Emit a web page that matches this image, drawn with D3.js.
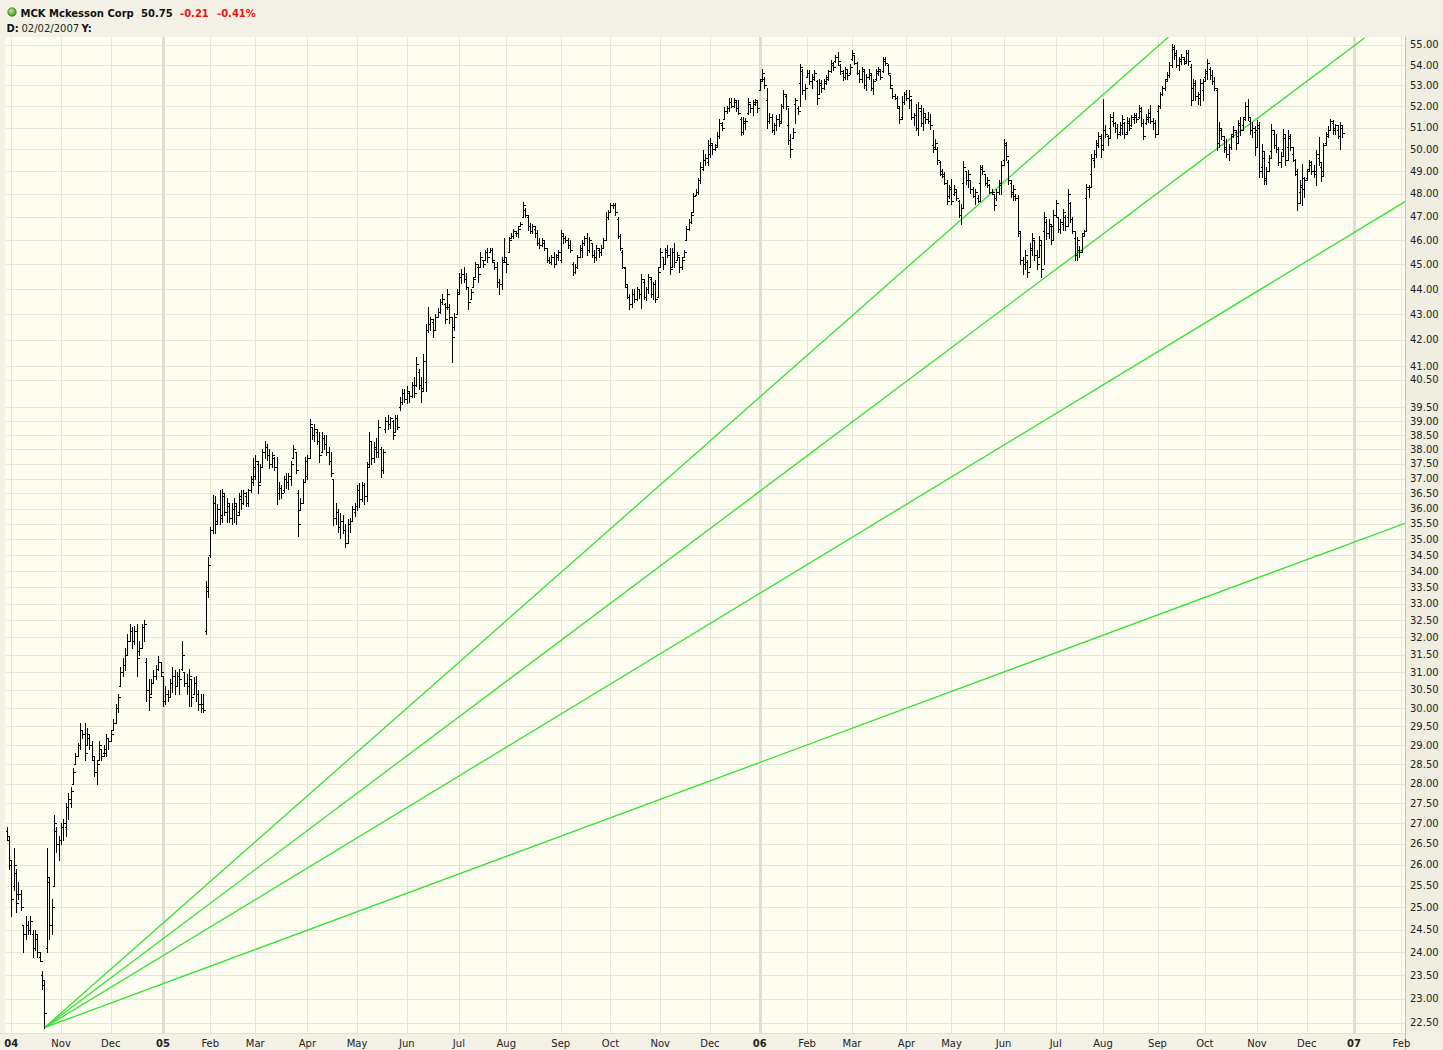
<!DOCTYPE html>
<html><head><meta charset="utf-8">
<script src="https://cdn.jsdelivr.net/npm/d3@7"></script>
<style>
html,body{margin:0;padding:0;background:#f3f1e6;}
svg{display:block;font-family:"DejaVu Sans",Verdana,sans-serif;}
</style></head><body>
<svg id="chart" width="1443" height="1050"></svg>
<script>
// ---------- header ----------
const symbol = "MCK";
const companyName = "Mckesson Corp";
const lastPrice = "50.75";
const changeAbs = "-0.21";
const changePct = "-0.41%";
const cursorDate = "02/02/2007";

// ---------- trading calendar ----------
const firstBarDate = "2004-09-29";
const lastAxisDate = "2007-02-02";
const marketHolidays = [
  "2004-11-25","2004-12-24",
  "2005-01-17","2005-02-21","2005-03-25","2005-05-30","2005-07-04","2005-09-05","2005-11-24","2005-12-26",
  "2006-01-02","2006-01-16","2006-02-20","2006-04-14","2006-05-29","2006-07-04","2006-09-04","2006-11-23","2006-12-25",
  "2007-01-01","2007-01-02","2007-01-15"
];

// ---------- price bars [open, high, low, close] ----------
const ohlc2004 = [
[26.8,26.9,26.6,26.7],[26.6,26.7,25.9,26.1],[26.0,26.1,24.8,25.2],[25.5,26.4,25.4,26.0],[25.8,25.9,24.9,25.1],
[25.3,25.6,25.2,25.3],[25.3,25.4,24.95,25.0],[24.6,24.6,24.0,24.4],[24.4,24.8,24.3,24.6],[24.6,24.7,24.4,24.5],
[24.5,24.8,24.4,24.7],[24.4,24.5,23.9,24.1],[24.1,24.5,24.05,24.4],[24.3,24.4,23.9,24.0],[23.9,24.0,23.8,23.8],
[23.5,23.6,23.2,23.4],[23.3,23.4,22.4,22.7],[24.1,26.4,24.0,25.7],[25.6,25.7,24.3,24.6],[24.6,25.2,24.4,25.0],
[25.5,27.2,25.5,27.0],[26.8,26.9,26.3,26.5],[26.5,26.7,26.1,26.6],
[26.6,27.0,26.5,26.9],[26.9,27.1,26.6,27.0],[26.9,27.5,26.7,27.4],[27.4,27.75,27.1,27.6],[27.5,27.9,27.4,27.8],
[28.0,28.4,28.0,28.3],[28.5,28.8,28.5,28.7],[28.7,29.05,28.7,29.0],[29.0,29.6,28.9,29.4],[29.4,29.4,29.2,29.3],
[29.3,29.6,28.6,28.8],[29.0,29.45,29.0,29.3],[29.2,29.3,28.9,29.0],[29.0,29.1,28.6,28.7],[28.6,28.7,28.2,28.3],
[28.3,28.6,28.0,28.5],[28.6,29.1,28.6,29.0],[28.9,28.9,28.6,28.7],[28.8,29.0,28.7,28.9],[28.8,29.3,28.7,29.2],
[29.2,29.2,28.9,29.1],
[29.1,29.4,29.1,29.3],[29.4,29.7,29.4,29.6],[29.6,30.1,29.6,30.0],[30.0,30.4,29.9,30.3],[30.6,31.15,30.6,31.0],
[31.0,31.4,30.9,31.2],[31.2,31.7,31.05,31.5],[31.5,32.1,31.5,31.9],[31.9,32.4,31.9,32.2],[32.2,32.3,31.7,31.9],
[31.9,32.35,31.8,32.2],[32.2,32.4,30.9,31.4],[31.6,31.9,31.5,31.7],[31.7,32.4,31.7,32.3],[32.3,32.5,31.9,32.4],
[31.3,31.4,30.2,30.5],[30.5,30.8,29.95,30.3],[30.4,30.8,30.4,30.7],[30.7,31.05,30.7,30.9],[30.9,31.2,30.8,31.1],
[31.1,31.45,31.05,31.3],[31.3,31.3,30.9,31.0]
];
const ohlc2005 = [
// Jan
[30.9,30.9,30.05,30.2],[30.2,30.6,30.1,30.4],[30.4,30.5,30.2,30.3],[30.3,30.8,30.3,30.7],[30.7,31.15,30.45,30.9],
[30.9,31.05,30.4,30.6],[30.6,31.0,30.6,30.9],[30.9,31.1,30.4,30.8],[31.1,31.9,31.05,31.5],[31.0,31.0,30.6,30.7],
[30.7,30.95,30.4,30.6],[30.6,31.1,30.05,30.9],[30.8,30.8,30.05,30.3],[30.4,30.85,30.4,30.7],[30.7,30.9,30.2,30.4],
[30.4,30.5,29.95,30.1],[30.1,30.4,29.9,30.0],[30.1,30.4,29.9,29.95],[32.2,33.7,32.1,33.5],[33.4,34.45,33.2,34.2],
// Feb
[34.5,35.4,34.45,35.3],[35.3,36.45,35.2,36.2],[36.2,36.4,35.2,35.5],[35.6,36.15,35.5,36.0],[36.0,36.6,35.5,35.7],
[35.8,36.65,35.55,36.5],[36.4,36.5,35.8,35.9],[35.9,36.35,35.55,36.2],[36.1,36.15,35.55,35.7],[35.7,36.2,35.5,36.0],
[36.0,36.35,35.55,36.2],[36.1,36.15,35.5,35.8],[35.9,36.5,35.8,36.4],[36.3,36.6,36.0,36.2],[36.2,36.6,36.15,36.5],
[36.4,36.55,36.1,36.2],[36.2,36.65,36.1,36.6],[36.6,37.1,36.55,37.0],[36.9,37.7,36.8,37.4],
// Mar
[37.1,37.8,37.0,37.6],[37.5,37.6,36.5,36.8],[36.9,37.5,36.9,37.4],[37.4,38.0,37.4,37.9],[37.9,38.3,37.7,38.1],
[38.1,38.2,37.65,37.8],[37.8,38.0,37.35,37.5],[37.5,37.9,37.4,37.8],[37.7,37.75,37.3,37.4],[37.4,37.75,36.15,36.5],
[36.5,36.9,36.3,36.7],[36.7,36.8,36.35,36.5],[36.6,37.1,36.55,37.0],[37.0,37.2,36.7,36.9],[36.9,37.2,36.65,37.1],
[37.0,37.6,36.8,37.5],[37.7,38.15,37.7,38.0],[37.9,37.9,37.2,37.3],[36.5,36.6,35.1,35.5],[35.96,36.35,35.95,36.2],
[36.2,37.0,36.2,36.9],[36.9,37.75,36.9,37.6],
// Apr
[37.1,37.8,37.0,37.7],[37.7,39.06,37.75,38.9],[38.8,38.8,38.35,38.5],[38.5,38.9,38.3,38.7],[38.6,38.7,38.2,38.3],
[38.3,38.6,37.55,37.8],[37.9,38.6,37.9,38.4],[38.4,38.5,38.0,38.2],[38.2,38.5,37.8,37.9],[37.9,38.1,37.5,37.6],
[37.6,37.9,37.1,37.2],[37.0,37.0,35.45,35.7],[35.7,36.2,35.5,35.9],[35.9,36.0,35.25,35.4],[35.4,35.85,35.05,35.6],
[35.6,35.8,35.2,35.3],[35.3,35.5,34.75,34.9],[34.9,35.65,34.9,35.5],[35.5,35.7,35.25,35.6],[35.6,36.1,35.6,36.0],
[35.9,36.2,35.75,36.1],
// May
[36.1,36.8,35.95,36.6],[36.6,36.85,36.05,36.3],[36.3,36.9,36.25,36.8],[36.8,36.85,36.15,36.4],[36.4,37.55,36.25,37.4],
[37.5,38.6,37.4,38.3],[38.3,38.3,37.5,37.7],[37.7,38.25,37.55,38.1],[38.0,38.4,37.75,37.9],[37.9,39.05,37.75,38.8],
[38.0,38.1,37.05,37.3],[37.3,38.0,37.2,37.9],[38.7,39.15,38.6,39.0],[39.0,39.2,38.7,38.9],[38.9,39.15,38.75,39.1],
[39.0,39.05,38.35,38.5],[38.6,39.2,38.6,39.1],[39.1,39.2,38.7,38.8],[39.5,39.85,39.4,39.7],[39.7,40.15,39.6,40.0],
[40.0,40.15,39.7,39.8],
// Jun
[39.8,40.25,39.65,40.1],[40.0,40.1,39.7,39.9],[39.9,40.4,39.85,40.3],[40.3,40.6,39.85,40.0],[40.3,41.35,40.25,41.1],
[40.8,40.9,40.15,40.3],[40.3,40.6,39.7,40.1],[40.2,41.45,40.1,41.2],[40.4,42.6,40.1,42.4],[42.4,43.3,42.3,42.6],
[42.6,42.9,42.4,42.8],[42.7,42.8,42.1,42.4],[42.4,43.0,42.4,42.9],[42.9,43.25,42.9,43.1],[43.1,43.6,43.05,43.5],
[43.5,43.8,43.4,43.6],[43.4,43.45,42.65,42.8],[43.3,44.0,43.2,43.8],[43.3,43.4,42.65,42.9],[42.9,42.9,41.15,42.1],
[42.5,43.05,42.4,42.9],[43.0,44.0,43.0,43.8],
// Jul
[43.9,44.65,43.8,44.5],[44.5,44.8,44.25,44.6],[44.6,44.9,44.3,44.4],[44.4,44.65,44.0,44.1],[44.1,44.1,43.2,43.5],
[43.6,44.0,43.6,43.9],[44.1,44.5,44.1,44.4],[44.5,45.1,44.5,45.0],[44.9,45.0,44.3,44.6],[44.9,45.5,44.9,45.3],
[45.2,45.2,44.9,45.0],[45.2,45.6,45.2,45.5],[45.5,45.7,45.1,45.3],[45.5,45.7,45.5,45.6],[45.6,45.7,45.1,45.2],
[45.1,45.1,44.8,44.9],[44.9,45.1,44.1,44.3],[44.3,44.4,43.8,44.2],[44.2,45.3,44.0,45.1],[45.2,46.1,45.1,45.3],
// Aug
[45.1,45.3,44.7,45.0],[45.5,46.15,45.5,46.0],[46.1,46.3,46.1,46.2],[46.2,46.5,46.1,46.4],[46.3,46.4,46.2,46.3],
[46.3,46.6,46.15,46.5],[46.6,46.8,46.6,46.7],[47.0,47.65,47.0,47.5],[47.3,47.4,47.0,47.1],[47.0,47.1,46.45,46.6],
[46.6,46.75,46.3,46.4],[46.4,46.7,46.3,46.6],[46.5,46.6,46.15,46.3],[46.3,46.45,45.8,45.9],[45.9,46.1,45.7,45.8],
[45.8,46.1,45.75,46.0],[45.9,46.0,45.6,45.7],[45.7,45.7,45.1,45.2],[45.2,45.3,45.05,45.1],[45.1,45.4,45.0,45.3],
[45.3,45.5,44.9,45.0],[45.0,45.45,45.0,45.4],[45.3,45.6,45.2,45.5],
// Sep
[45.2,46.45,45.1,46.3],[46.2,46.3,45.9,46.1],[46.1,46.2,45.95,46.0],[46.0,46.1,45.7,45.8],[45.8,46.0,45.5,45.6],
[45.0,45.1,44.55,44.7],[44.7,45.0,44.65,44.9],[44.9,45.4,44.85,45.3],[45.3,45.8,45.3,45.7],[45.6,46.0,45.3,45.9],
[45.9,46.2,45.8,46.1],[46.1,46.3,45.4,45.6],[45.6,46.15,45.5,46.0],[45.9,45.9,45.3,45.4],[45.4,45.6,45.1,45.3],
[45.3,45.8,45.2,45.7],[45.6,45.7,45.3,45.5],[45.5,45.8,45.4,45.7],[45.7,46.1,45.7,46.0],[46.0,47.2,46.0,47.0],
[47.0,47.3,46.9,47.2],
// Oct
[47.2,47.6,47.2,47.5],[47.5,47.6,47.4,47.5],[47.5,47.6,47.1,47.2],[46.9,47.0,46.1,46.2],[46.2,46.25,45.6,45.7],
[45.5,45.6,44.85,44.9],[44.85,44.9,44.1,44.2],[44.1,44.2,43.65,43.7],[43.7,43.8,43.2,43.4],[43.4,44.0,43.3,43.8],
[43.8,44.0,43.5,43.6],[43.6,44.1,43.55,44.0],[44.0,44.0,43.65,43.8],[43.8,44.6,43.25,44.4],[44.3,44.4,43.6,43.7],
[43.7,44.1,43.55,44.0],[44.0,44.6,43.85,44.5],[44.4,44.5,43.7,43.8],[43.8,44.3,43.6,44.2],[44.2,44.35,43.5,43.6],
[43.7,44.9,43.7,44.7],
// Nov
[44.9,45.7,44.9,45.5],[45.3,45.3,44.8,45.0],[45.0,45.7,45.0,45.6],[45.5,45.8,45.3,45.4],[45.4,45.7,44.6,44.8],
[44.9,45.7,44.9,45.5],[45.5,45.9,44.9,45.1],[45.2,45.5,45.2,45.4],[45.3,45.3,44.7,44.9],[44.9,45.3,44.8,45.2],
[45.3,45.6,45.3,45.5],[46.0,46.6,46.0,46.5],[46.5,46.9,46.45,46.8],[46.8,47.2,46.75,47.1],[47.2,48.05,47.2,47.9],
[47.95,48.2,47.95,48.1],[48.1,48.7,48.0,48.6],[48.6,49.4,48.5,49.2],[49.1,49.97,49.07,49.5],[49.5,49.8,49.3,49.6],
[49.4,50.4,49.3,50.2],
// Dec
[49.8,50.5,49.65,50.3],[50.2,50.3,49.8,50.0],[50.0,50.25,49.97,50.1],[50.2,50.8,50.1,50.6],[50.6,51.4,50.5,51.2],
[51.1,51.25,50.9,51.0],[51.4,51.95,51.4,51.8],[51.8,52.0,51.7,51.9],[51.9,52.4,51.8,52.2],[52.2,52.4,51.95,52.0],
[52.0,52.4,51.95,52.3],[52.2,52.3,51.8,51.9],[51.9,52.3,51.65,51.7],[51.4,51.5,50.65,50.8],[50.8,51.5,50.7,51.3],
[51.2,51.45,50.95,51.3],[51.7,52.4,51.65,52.2],[52.1,52.1,51.75,51.9],[51.9,52.3,51.6,52.2],[52.1,52.35,52.05,52.3],
[52.2,52.3,51.75,51.9]
];
const ohlc2006 = [
// Jan
[52.8,53.3,52.8,53.2],[53.3,53.8,53.25,53.6],[53.3,53.4,52.9,53.0],[52.3,52.9,51.0,51.3],[51.3,51.7,51.2,51.5],
[51.5,51.65,50.8,50.9],[50.9,51.2,50.7,51.1],[51.1,51.6,50.9,51.4],[51.4,51.65,51.05,51.2],[51.3,52.1,51.25,52.0],
[52.0,52.8,51.9,52.6],[52.5,52.6,51.85,52.0],[51.1,51.9,50.25,50.4],[50.4,50.7,49.65,50.0],[50.5,51.0,50.5,50.8],
[52.1,52.4,51.2,52.3],[51.9,52.0,51.65,51.8],[53.1,54.05,52.0,53.9],[53.7,53.8,52.6,52.8],[52.8,53.05,52.35,52.9],
// Feb
[53.4,53.75,53.4,53.6],[53.6,53.75,53.05,53.2],[53.2,53.55,52.9,53.4],[53.3,53.75,53.25,53.6],[53.2,53.25,52.1,52.4],
[52.6,53.3,52.6,53.1],[53.0,53.25,52.7,52.9],[52.9,53.3,52.85,53.2],[53.1,53.5,53.05,53.4],[53.3,53.75,53.25,53.7],
[53.7,54.25,53.65,54.1],[54.0,54.15,53.75,53.9],[54.2,54.5,54.15,54.4],[54.4,54.65,54.0,54.2],[54.0,54.05,53.55,53.7],
[53.6,53.75,53.25,53.4],[53.4,53.9,53.3,53.8],[53.6,53.75,53.3,53.5],[53.6,54.05,53.55,53.9],
// Mar
[54.3,54.75,54.25,54.6],[54.5,54.5,54.05,54.1],[54.1,54.15,53.55,53.6],[53.6,53.75,53.15,53.3],[53.3,53.9,53.15,53.8],
[53.7,53.75,52.9,53.0],[53.0,53.55,52.8,53.4],[53.4,53.8,53.3,53.6],[53.5,53.55,52.8,52.9],[52.9,53.3,52.6,53.2],
[53.3,53.8,53.25,53.7],[53.6,53.9,53.5,53.8],[53.7,53.8,53.3,53.4],[53.7,54.4,53.65,54.3],[54.2,54.4,54.0,54.1],
[54.0,54.05,53.55,53.6],[53.5,53.5,52.9,53.0],[52.9,52.9,52.4,52.5],[52.5,52.6,52.35,52.4],[52.4,52.5,51.9,52.0],
[51.9,51.95,51.2,51.4],[51.5,52.5,51.4,52.2],[52.2,52.7,52.1,52.6],
// Apr
[52.6,52.8,52.3,52.4],[52.4,52.8,51.9,52.5],[52.3,52.35,51.4,51.5],[51.5,51.7,51.1,51.6],[51.6,52.1,50.9,51.0],
[51.0,52.2,50.65,51.9],[51.8,52.05,51.05,51.2],[51.2,51.9,50.9,51.7],[51.5,51.65,51.2,51.4],[51.4,51.75,51.2,51.3],
[51.3,51.65,50.95,51.1],[50.2,50.9,49.85,50.0],[50.1,50.45,50.0,50.3],[50.0,50.1,49.35,49.5],[49.4,49.45,48.85,48.9],
[49.0,49.1,48.75,48.8],[48.9,48.95,48.45,48.5],[48.5,48.6,47.55,47.7],[47.9,48.4,47.8,48.3],
// May
[48.2,48.65,47.55,47.7],[48.0,48.4,47.95,48.2],[48.1,48.2,47.75,47.8],[47.7,47.75,47.0,47.1],[47.1,47.55,46.7,47.4],
[48.5,49.45,47.4,49.2],[49.0,49.0,48.45,48.6],[48.6,49.05,48.3,48.9],[48.6,48.6,48.05,48.2],[48.2,48.3,47.85,47.9],
[47.9,48.2,47.55,48.1],[47.8,47.95,47.65,47.7],[48.5,49.3,47.7,49.2],[49.1,49.3,48.9,49.0],[48.9,48.9,48.4,48.5],
[48.5,48.75,48.3,48.6],[48.4,48.45,48.05,48.1],[48.1,48.2,48.0,48.1],[48.0,48.0,47.3,47.5],[47.8,48.2,47.75,48.1],
[48.1,48.6,48.0,48.5],[48.4,49.45,48.0,49.3],
// Jun
[49.5,50.45,49.3,50.3],[50.2,50.35,49.5,49.7],[49.4,49.5,48.45,48.6],[48.5,48.6,47.85,48.0],[48.1,48.4,47.75,48.2],
[47.9,48.0,47.75,47.8],[47.8,47.95,46.2,46.4],[46.3,46.4,45.0,45.2],[45.2,45.3,44.6,45.0],[45.0,45.6,44.8,45.4],
[45.1,45.2,44.5,44.7],[44.9,45.9,44.9,45.7],[45.6,46.3,45.4,46.1],[46.0,46.0,45.2,45.4],[45.4,45.6,44.8,45.0],
[45.3,46.2,45.3,46.0],[45.8,46.0,44.5,44.8],[46.4,47.2,45.0,47.0],[46.8,46.9,46.05,46.3],[46.3,46.9,46.1,46.7],
[46.6,46.65,45.85,46.0],[46.6,47.3,46.0,47.1],
// Jul
[47.1,47.75,47.0,47.6],[47.0,47.0,46.35,46.5],[46.5,46.9,46.3,46.8],[46.7,47.35,46.45,47.2],[47.0,47.1,46.45,46.6],
[47.0,48.2,46.6,48.0],[47.6,47.65,46.8,46.9],[46.9,47.0,46.3,46.4],[46.1,46.4,45.2,45.4],[45.4,46.15,45.2,46.0],
[45.6,45.75,45.3,45.5],[45.6,46.3,45.5,46.2],[46.3,46.45,46.2,46.4],[47.8,48.45,46.4,48.3],[48.2,48.4,47.85,48.3],
[48.9,49.8,48.3,49.6],[49.5,49.97,49.2,49.8],[49.8,50.4,49.65,50.3],[50.2,50.8,50.1,50.6],[50.5,50.7,49.65,50.0],
// Aug
[50.2,52.35,49.97,50.9],[50.9,51.1,50.55,50.7],[50.6,50.65,50.2,50.5],[51.0,51.65,50.5,51.5],[51.3,51.75,51.05,51.2],
[51.2,51.25,50.8,51.0],[51.0,51.15,50.5,50.7],[50.8,51.25,50.65,51.1],[51.0,51.6,50.7,51.4],[51.2,51.25,50.5,50.7],
[50.8,51.5,50.7,51.3],[51.2,51.45,50.9,51.0],[51.1,51.6,51.05,51.5],[51.4,51.7,51.2,51.6],[51.5,51.7,51.25,51.4],
[51.5,52.05,51.45,51.9],[51.8,51.95,51.05,51.2],[51.2,51.4,50.45,50.6],[51.2,51.65,51.15,51.5],[51.4,51.85,51.25,51.7],
[51.5,52.05,51.2,51.3],[51.3,51.45,50.95,51.2],[51.2,51.35,50.55,50.7],
// Sep
[51.8,52.05,50.7,52.0],[52.0,52.7,51.9,52.6],[52.6,52.95,52.55,52.9],[52.9,53.3,52.8,53.2],[53.3,53.65,53.2,53.5],
[53.5,54.15,53.4,54.0],[54.0,55.05,53.9,54.9],[54.8,55.0,54.3,54.5],[54.6,54.75,53.9,54.0],[54.0,54.4,53.75,54.3],
[54.2,54.55,54.05,54.4],[54.3,54.4,54.05,54.1],[54.2,54.75,54.15,54.6],[54.6,54.75,54.0,54.2],[53.9,54.05,52.05,52.3],
[52.9,53.3,52.3,53.1],[53.0,53.25,52.3,52.5],[52.5,52.7,52.1,52.6],[52.4,53.3,52.05,53.1],[52.8,53.3,52.3,53.2],
// Oct
[53.4,53.8,53.2,53.7],[53.6,54.3,53.3,54.1],[53.8,53.9,53.3,53.5],[53.5,53.75,53.05,53.2],[53.2,53.4,52.8,52.9],
[52.8,52.9,49.97,50.3],[50.3,51.25,50.1,51.0],[50.9,50.95,50.45,50.6],[50.4,50.6,49.85,50.0],[50.1,50.45,49.65,49.8],
[49.8,50.25,49.5,50.1],[50.1,50.7,50.0,50.6],[50.7,51.05,50.55,50.9],[50.8,50.9,50.0,50.3],[50.6,51.35,50.3,51.2],
[51.1,51.5,50.65,50.9],[51.1,51.5,50.9,51.4],[51.5,52.2,51.35,52.0],[52.0,52.35,51.35,51.5],[51.3,51.5,50.7,50.9],
[50.9,51.25,50.55,51.0],[50.8,51.05,49.75,50.1],
// Nov
[50.9,51.35,50.1,51.1],[51.0,51.25,48.75,49.0],[49.2,50.25,48.75,49.9],[49.6,49.9,48.45,48.6],[48.7,49.2,48.45,49.0],
[49.4,49.75,49.0,49.6],[49.9,51.15,49.6,50.9],[50.7,50.9,50.05,50.2],[50.2,50.7,49.85,50.0],[50.0,50.1,49.3,49.4],
[49.4,49.85,49.2,49.7],[50.0,50.95,49.7,50.7],[50.5,50.7,49.3,49.5],[50.1,50.9,49.5,50.6],[50.5,50.7,49.97,50.1],
[49.8,50.1,49.45,49.5],[49.5,49.55,48.85,48.9],[49.0,49.1,47.3,47.6],[48.1,48.6,47.6,48.4],[48.3,49.35,47.5,48.7],
[48.2,48.75,47.85,48.6],
// Dec
[48.7,49.1,48.6,49.0],[49.1,49.5,49.0,49.4],[49.3,49.45,48.9,49.0],[49.0,49.3,48.75,48.9],[49.0,49.97,48.4,49.8],
[49.6,50.55,49.3,49.4],[49.2,49.4,48.55,48.8],[49.0,50.3,48.8,50.2],[50.3,50.8,50.2,50.7],[50.6,51.05,50.55,50.9],
[50.9,51.4,50.9,51.3],[51.2,51.35,50.7,50.9],[51.0,51.15,50.7,51.1],[50.9,51.1,50.5,50.6],[50.6,51.25,50.0,51.1],
[51.0,51.1,50.55,50.75]
];

// ---------- axis ticks ----------
const priceTicks = [22.5,23,23.5,24,24.5,25,25.5,26,26.5,27,27.5,28,28.5,29,29.5,30,30.5,31,31.5,32,32.5,33,33.5,34,34.5,35,35.5,36,36.5,37,37.5,38,38.5,39,39.5,40.5,41,42,43,44,45,46,47,48,49,50,51,52,53,54,55];
const monthTickLabels = ["04","Nov","Dec","05","Feb","Mar","Apr","May","Jun","Jul","Aug","Sep","Oct","Nov","Dec","06","Feb","Mar","Apr","May","Jun","Jul","Aug","Sep","Oct","Nov","Dec","07","Feb"];
const yearTickLabels = ["04","05","06","07"];

// ---------- Gann fan: origin at the Oct-2004 low, end points (trading day #, price) ----------
const fanOrigin = {day: 16, price: 22.40};
const fanEnds = [
  {day: 490.6, price: 55.40},
  {day: 573.4, price: 55.35},
  {day: 590.5, price: 47.66},
  {day: 590.5, price: 35.52}
];

// ================= drawing =================
const W = 1443, H = 1050;
const plot = {left: 5.4, right: 1405, top: 37, bottom: 1033};
const svg = d3.select("#chart");

const holidaySet = new Set(marketHolidays);
const fmt = d3.utcFormat("%Y-%m-%d");
const tradingDays = d3.utcDays(new Date(firstBarDate + "T00:00:00Z"), d3.utcDay.offset(new Date(lastAxisDate + "T00:00:00Z"), 1))
  .filter(d => d.getUTCDay() !== 0 && d.getUTCDay() !== 6 && !holidaySet.has(fmt(d)));

const x = d3.scaleBand().domain(tradingDays.map(fmt)).range([plot.left, plot.right]).paddingInner(0).paddingOuter(0);
const bw = x.bandwidth();
const xc = key => x(key) + bw / 2;
const xDay = d3.scaleLinear().domain([0, tradingDays.length]).range([plot.left, plot.right]);
const y = d3.scaleLog().domain([22.29, 55.40]).range([plot.bottom, plot.top]);

// backgrounds
svg.append("rect").attr("width", W).attr("height", H).attr("fill", "#f3f1e6");
svg.append("rect").attr("x", plot.right).attr("y", plot.top).attr("width", W - plot.right).attr("height", plot.bottom - plot.top).attr("fill", "#f0eee1");
svg.append("rect").attr("x", plot.left).attr("y", plot.top).attr("width", plot.right - plot.left).attr("height", plot.bottom - plot.top).attr("fill", "#fefef0");

svg.append("clipPath").attr("id", "plotclip").append("rect")
  .attr("x", plot.left).attr("y", plot.top).attr("width", plot.right - plot.left).attr("height", plot.bottom - plot.top);

const grid = svg.append("g").attr("clip-path", "url(#plotclip)");
grid.selectAll("line.hg").data(priceTicks).join("line")
  .attr("x1", plot.left).attr("x2", plot.right)
  .attr("y1", d => Math.round(y(d)) + 0.5).attr("y2", d => Math.round(y(d)) + 0.5)
  .attr("stroke", "#e6e4d3").attr("stroke-width", 1);

const monthStarts = [];
tradingDays.forEach((d, i) => {
  if (i === 0) return;
  if (d.getUTCMonth() !== tradingDays[i - 1].getUTCMonth()) monthStarts.push(d);
});
const monthTicks = monthStarts.map((d, i) => ({date: d, label: monthTickLabels[i], isYear: yearTickLabels.includes(monthTickLabels[i])}));

grid.selectAll("line.vg").data(monthTicks).join("line")
  .attr("x1", d => Math.round(xc(fmt(d.date))) + 0.5).attr("x2", d => Math.round(xc(fmt(d.date))) + 0.5)
  .attr("y1", plot.top).attr("y2", plot.bottom)
  .attr("stroke", d => d.isYear && d.label !== "04" ? "#e0ded0" : "#e6e4d3")
  .attr("stroke-width", d => d.isYear && d.label !== "04" ? 3 : 1);

// fan lines
svg.append("g").attr("clip-path", "url(#plotclip)")
  .selectAll("line").data(fanEnds).join("line")
  .attr("x1", xDay(fanOrigin.day + 0.5)).attr("y1", y(fanOrigin.price))
  .attr("x2", d => xDay(d.day + 0.5)).attr("y2", d => y(d.price))
  .attr("stroke", "#33e033").attr("stroke-width", 1.3);

// OHLC bars
const rows = ohlc2004.concat(ohlc2005, ohlc2006);
const bars = rows.map((r, i) => ({key: fmt(tradingDays[i]), o: r[0], h: r[1], l: r[2], c: r[3]}));
svg.append("g").attr("clip-path", "url(#plotclip)")
  .selectAll("path").data(bars).join("path")
  .attr("d", d => {
    const cx = Math.round(xc(d.key)) + 0.5;
    const yh = Math.round(y(d.h)), yl = Math.round(y(d.l)) + 1;
    const yo = Math.round(y(d.o)) + 0.5, ycl = Math.round(y(d.c)) + 0.5;
    return `M${cx},${yh}V${yl}M${cx - 2},${yo}H${cx}M${cx},${ycl}H${cx + 2}`;
  })
  .attr("fill", "none").attr("stroke", "#000").attr("stroke-width", 1)
  .attr("shape-rendering", "crispEdges");

// axis lines
svg.append("line").attr("x1", plot.right + 0.5).attr("x2", plot.right + 0.5).attr("y1", plot.top).attr("y2", H)
  .attr("stroke", "#c9c3a5").attr("stroke-width", 1);
svg.append("line").attr("x1", 0).attr("x2", plot.right).attr("y1", plot.bottom + 0.5).attr("y2", plot.bottom + 0.5)
  .attr("stroke", "#e2dfcf").attr("stroke-width", 1);

// price labels
svg.append("g").selectAll("text").data(priceTicks).join("text")
  .attr("x", 1410).attr("y", d => y(d)).attr("dy", "0.35em")
  .attr("font-size", 10).attr("fill", "#222")
  .text(d => d3.format(".2f")(d));

// month labels
svg.append("g").selectAll("text").data(monthTicks).join("text")
  .attr("x", d => xc(fmt(d.date))).attr("y", 1047)
  .attr("text-anchor", "middle").attr("font-size", 10)
  .attr("font-weight", d => d.isYear ? "bold" : "normal").attr("fill", "#222")
  .text(d => d.label);

// header
const defs = svg.append("defs");
const rg = defs.append("radialGradient").attr("id", "dot").attr("cx", "40%").attr("cy", "35%").attr("r", "65%");
rg.append("stop").attr("offset", "0%").attr("stop-color", "#b8f08a");
rg.append("stop").attr("offset", "100%").attr("stop-color", "#3f9a1e");
svg.append("circle").attr("cx", 12).attr("cy", 12).attr("r", 4.2).attr("fill", "url(#dot)").attr("stroke", "#4d7a36").attr("stroke-width", 0.8);

const headerItems = [
  {text: symbol + " " + companyName, x: 20.5, color: "#111"},
  {text: lastPrice, x: 141, color: "#111"},
  {text: changeAbs, x: 180, color: "#ee1111"},
  {text: changePct, x: 217, color: "#ee1111"}
];
svg.append("g").selectAll("text").data(headerItems).join("text")
  .attr("x", d => d.x).attr("y", 16.5).attr("font-size", 10).attr("font-weight", "bold")
  .attr("fill", d => d.color).text(d => d.text);

const h2 = svg.append("text").attr("x", 6.5).attr("y", 32).attr("font-size", 10);
h2.append("tspan").attr("font-weight", "bold").attr("fill", "#111").text("D:");
h2.append("tspan").attr("x", 21.5).attr("fill", "#222").text(cursorDate);
h2.append("tspan").attr("x", 81.5).attr("font-weight", "bold").attr("fill", "#111").text("Y:");
</script>
</body></html>
